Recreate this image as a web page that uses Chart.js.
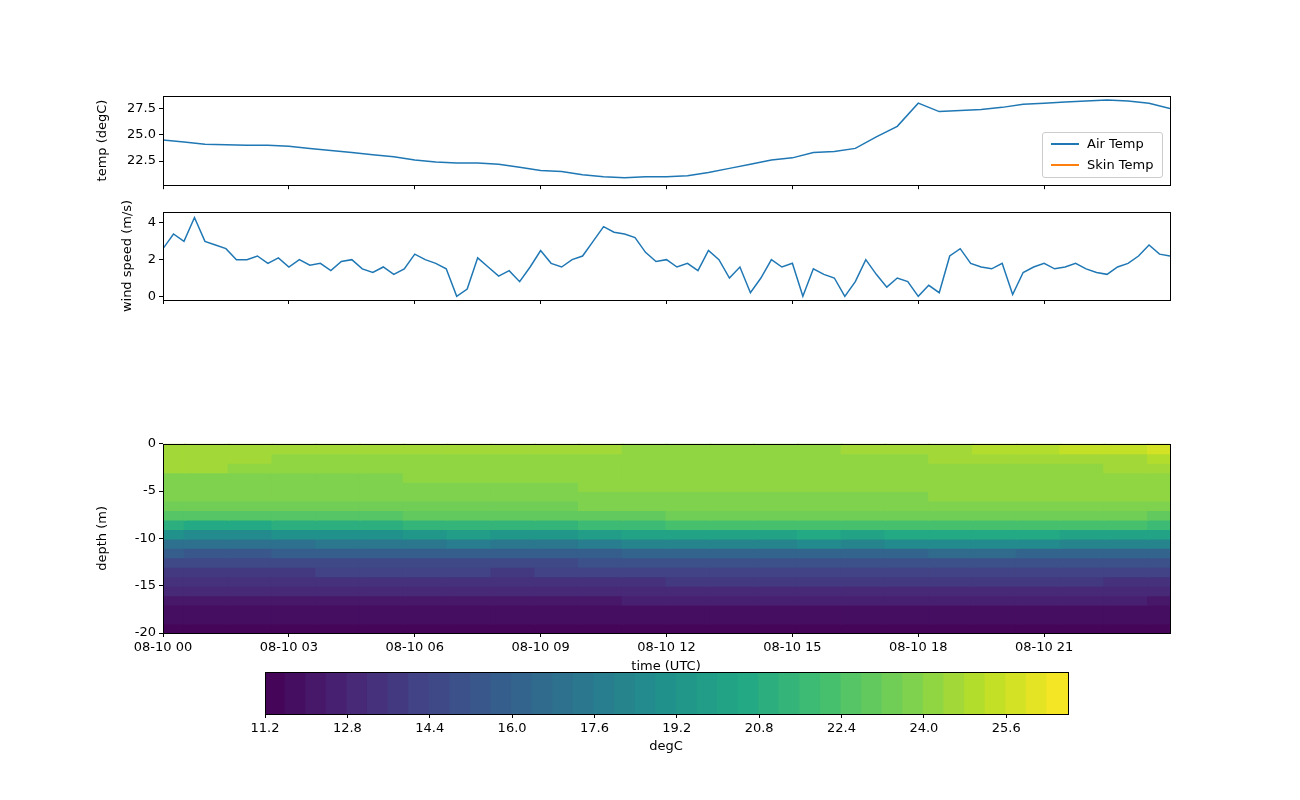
<!DOCTYPE html>
<html>
<head>
<meta charset="utf-8">
<script src="https://cdn.jsdelivr.net/npm/chart.js@4"></script>
<style>
  body { margin: 0; width: 1300px; height: 800px; background: #fff; position: relative; font-family: "DejaVu Sans", sans-serif; overflow: hidden; }
  canvas { position: absolute; }
  .lbl { position: absolute; font-size: 13px; transform: translateX(-50%); white-space: nowrap; }
  #legend { position: absolute; left: 1042px; top: 132px; width: 119px; height: 44px; border: 1px solid #ccc; border-radius: 3px; background: #fff; font-size: 13px; }
  #legend div { height: 21px; line-height: 21px; position: relative; padding-left: 44px; }
  #legend span { position: absolute; left: 8px; top: 10px; width: 28px; height: 2px; }
</style>
</head>
<body>
<canvas id="tempChart"></canvas>
<canvas id="windChart"></canvas>
<canvas id="depthChart"></canvas>
<canvas id="cbarChart"></canvas>
<div class="lbl" style="left:666px; top:658px">time (UTC)</div>
<div class="lbl" style="left:666px; top:738px">degC</div>
<div id="legend">
  <div><span style="background:#1f77b4"></span>Air Temp</div>
  <div><span style="background:#ff7f0e"></span>Skin Temp</div>
</div>
<script>
const timeTicks = [0, 3, 6, 9, 12, 15, 18, 21];
const timeLabels = ["08-10 00", "08-10 03", "08-10 06", "08-10 09", "08-10 12", "08-10 15", "08-10 18", "08-10 21"];

// air temp, every 30 min
const airTemp = [24.5, 24.3, 24.1, 24.05, 24.0, 24.0, 23.9, 23.7, 23.5, 23.3, 23.1, 22.9, 22.6, 22.4, 22.3, 22.3,
  22.2, 21.9, 21.6, 21.5, 21.2, 21.0, 20.9, 21.0, 21.0, 21.1, 21.4, 21.8, 22.2, 22.6, 22.8, 23.3, 23.4, 23.7,
  24.8, 25.8, 28.0, 27.2, 27.3, 27.4, 27.6, 27.9, 28.0, 28.1, 28.2, 28.3, 28.2, 28.0, 27.5];
const skinTemp = [];

// wind speed, every 15 min
const windSpeed = [2.6, 3.4, 3.0, 4.3, 3.0, 2.8, 2.6, 2.0, 2.0, 2.2, 1.8, 2.1, 1.6, 2.0, 1.7, 1.8,
  1.4, 1.9, 2.0, 1.5, 1.3, 1.6, 1.2, 1.5, 2.3, 2.0, 1.8, 1.5, 0.0, 0.4, 2.1, 1.6,
  1.1, 1.4, 0.8, 1.6, 2.5, 1.8, 1.6, 2.0, 2.2, 3.0, 3.8, 3.5, 3.4, 3.2, 2.4, 1.9,
  2.0, 1.6, 1.8, 1.4, 2.5, 2.0, 1.0, 1.6, 0.2, 1.0, 2.0, 1.6, 1.8, 0.0, 1.5, 1.2,
  1.0, 0.0, 0.8, 2.0, 1.2, 0.5, 1.0, 0.8, 0.0, 0.6, 0.2, 2.2, 2.6, 1.8, 1.6, 1.5,
  1.8, 0.1, 1.3, 1.6, 1.8, 1.5, 1.6, 1.8, 1.5, 1.3, 1.2, 1.6, 1.8, 2.2, 2.8, 2.3, 2.2];

// water temperature (degC): one column per hour, 1 m layers from 0 to -20 m
const depthHours = ["0","1","2","3","4","5","6","7","8","9","10","11","12","13","14","15","16","17","18","19","20","21","22","23"];
const waterTemp = [
  [24.7,24.6,24.4,23.9,23.7,23.6,23.4,22.6,20.8,18.8,17.0,15.6,14.6,13.9,13.4,12.9,12.3,11.9,11.6,11.4],
  [24.7,24.6,24.4,23.9,23.7,23.6,23.4,22.5,20.7,18.7,16.9,15.5,14.6,13.9,13.4,12.9,12.3,11.9,11.6,11.4],
  [24.6,24.5,24.3,23.9,23.7,23.6,23.3,22.5,20.7,18.7,16.9,15.5,14.5,13.8,13.3,12.8,12.2,11.8,11.6,11.4],
  [24.5,24.3,24.1,23.9,23.7,23.6,23.4,22.6,20.9,18.9,17.1,15.6,14.6,13.9,13.4,12.9,12.3,11.9,11.6,11.4],
  [24.5,24.3,24.1,23.9,23.7,23.6,23.4,22.7,21.0,19.0,17.2,15.7,14.7,14.0,13.4,12.9,12.3,11.9,11.6,11.4],
  [24.4,24.3,24.1,23.9,23.8,23.6,23.4,22.7,21.1,19.1,17.2,15.7,14.7,14.0,13.4,12.9,12.3,11.9,11.6,11.4],
  [24.4,24.3,24.1,24.0,23.9,23.7,23.5,22.9,21.4,19.5,17.5,15.8,14.7,14.0,13.4,12.9,12.3,11.9,11.6,11.4],
  [24.4,24.3,24.1,24.0,23.9,23.7,23.5,22.9,21.5,19.6,17.6,15.8,14.7,14.0,13.4,12.9,12.3,11.9,11.6,11.4],
  [24.4,24.3,24.1,24.0,23.9,23.7,23.5,22.8,21.3,19.4,17.4,15.7,14.6,13.9,13.3,12.8,12.2,11.8,11.6,11.4],
  [24.4,24.3,24.2,24.0,23.9,23.7,23.5,22.9,21.4,19.5,17.5,15.8,14.7,14.0,13.4,12.9,12.3,11.9,11.6,11.4],
  [24.4,24.3,24.2,24.1,24.0,23.8,23.6,23.0,21.6,19.7,17.7,15.9,14.8,14.0,13.4,12.9,12.3,11.9,11.6,11.4],
  [24.3,24.3,24.2,24.1,24.0,23.9,23.7,23.1,21.8,20.0,18.0,16.1,14.9,14.1,13.5,13.0,12.4,11.9,11.6,11.4],
  [24.3,24.3,24.2,24.1,24.0,23.9,23.7,23.2,22.0,20.2,18.2,16.2,15.0,14.2,13.6,13.0,12.4,11.9,11.6,11.4],
  [24.3,24.3,24.2,24.1,24.0,23.9,23.7,23.2,22.0,20.2,18.2,16.2,15.0,14.2,13.6,13.0,12.4,11.9,11.6,11.4],
  [24.3,24.3,24.2,24.1,24.0,23.9,23.7,23.2,22.0,20.3,18.3,16.3,15.0,14.2,13.6,13.0,12.4,11.9,11.6,11.4],
  [24.3,24.3,24.2,24.1,24.0,23.9,23.7,23.2,22.1,20.4,18.4,16.3,15.1,14.3,13.6,13.0,12.4,11.9,11.6,11.4],
  [24.4,24.3,24.2,24.1,24.0,23.9,23.7,23.2,22.0,20.3,18.3,16.3,15.0,14.2,13.6,13.0,12.4,11.9,11.6,11.4],
  [24.5,24.3,24.2,24.1,24.0,23.9,23.7,23.2,22.1,20.4,18.4,16.3,15.1,14.3,13.6,13.0,12.4,11.9,11.6,11.4],
  [24.7,24.4,24.3,24.2,24.1,24.0,23.8,23.3,22.2,20.5,18.5,16.4,15.1,14.3,13.6,13.0,12.4,11.9,11.6,11.4],
  [24.8,24.5,24.3,24.2,24.1,24.0,23.8,23.3,22.2,20.5,18.5,16.4,15.1,14.3,13.6,13.0,12.4,11.9,11.6,11.4],
  [25.0,24.5,24.3,24.2,24.1,24.0,23.8,23.3,22.2,20.4,18.4,16.3,15.1,14.3,13.6,13.0,12.4,11.9,11.6,11.4],
  [25.2,24.6,24.3,24.2,24.1,24.0,23.8,23.2,22.1,20.3,18.3,16.2,15.0,14.2,13.6,13.0,12.4,11.9,11.6,11.4],
  [25.5,24.7,24.4,24.2,24.1,24.0,23.8,23.2,22.0,20.1,18.1,16.1,14.9,14.2,13.5,13.0,12.4,11.9,11.6,11.4],
  [25.9,24.8,24.4,24.2,24.1,24.0,23.7,23.1,21.9,20.0,18.0,16.0,14.9,14.1,13.5,12.9,12.3,11.9,11.6,11.4]
];

// contour levels and colorbar ticks
const levels = [11.2,11.6,12.0,12.4,12.8,13.2,13.6,14.0,14.4,14.8,15.2,15.6,16.0,16.4,16.8,17.2,17.6,18.0,18.4,18.8,
  19.2,19.6,20.0,20.4,20.8,21.2,21.6,22.0,22.4,22.8,23.2,23.6,24.0,24.4,24.8,25.2,25.6,26.0,26.4,26.8];
const cbarTicks = [11.2, 12.8, 14.4, 16.0, 17.6, 19.2, 20.8, 22.4, 24.0, 25.6];

const VIRIDIS = ["#440154","#482475","#414487","#355f8d","#2a788e","#21918c","#22a884","#44bf70","#7ad151","#bddf26","#fde725"];
function hex(h) { return [1, 3, 5].map(i => parseInt(h.substr(i, 2), 16)); }
function viridis(t) {
  t = Math.max(0, Math.min(1, t));
  const p = t * 10, i = Math.min(9, Math.floor(p)), f = p - i;
  const a = hex(VIRIDIS[i]), b = hex(VIRIDIS[i + 1]);
  return `rgb(${a.map((v, k) => Math.round(v + (b[k] - v) * f)).join(",")})`;
}
const nBins = levels.length - 1;
function levelColor(temp) {
  let idx = 0;
  while (idx < nBins - 1 && temp >= levels[idx + 1]) idx++;
  return viridis((idx + 0.5) / nBins);
}

Chart.defaults.font.family = "'DejaVu Sans', sans-serif";
Chart.defaults.font.size = 13;
Chart.defaults.color = "#000";
Chart.defaults.animation = false;
Chart.defaults.plugins.legend.display = false;
Chart.defaults.plugins.tooltip.enabled = false;

const frame = {
  id: "frame",
  afterDraw(chart) {
    const a = chart.chartArea, ctx = chart.ctx;
    ctx.save();
    ctx.strokeStyle = "#000";
    ctx.lineWidth = 1;
    ctx.strokeRect(Math.round(a.left) + 0.5, Math.round(a.top) + 0.5, Math.round(a.right - a.left), Math.round(a.bottom - a.top));
    ctx.restore();
  }
};

function place(id, left, top, width, height) {
  const c = document.getElementById(id);
  c.style.left = left + "px"; c.style.top = top + "px";
  c.style.width = width + "px"; c.style.height = height + "px";
  return c;
}

const tickGrid = { drawOnChartArea: false, drawTicks: true, tickLength: 4, color: "#000", offset: false };

function timeAxis(showLabels, height) {
  return {
    type: "linear", min: 0, max: 24, offset: false, position: "bottom",
    grid: tickGrid, border: { display: false },
    afterBuildTicks: s => { s.ticks = timeTicks.map(v => ({ value: v })); },
    ticks: { display: showLabels, maxRotation: 0, padding: 3, callback: (v, i) => timeLabels[i] },
    afterFit: s => { s.height = height; }
  };
}

function yAxis(width, title, min, max, tickVals, fmt) {
  return {
    min, max,
    grid: tickGrid, border: { display: false },
    afterBuildTicks: s => { s.ticks = tickVals.map(v => ({ value: v })); },
    ticks: { padding: 3, callback: fmt },
    title: { display: true, text: title, padding: { top: 0, bottom: 2 } },
    afterFit: s => { s.width = width; }
  };
}

// panel 1: temperatures
new Chart(place("tempChart", 95, 85, 1082, 111), {
  type: "line",
  data: {
    datasets: [
      { label: "Air Temp", data: airTemp.map((v, i) => ({ x: i * 0.5, y: v })), borderColor: "#1f77b4", borderWidth: 1.5, pointRadius: 0 },
      { label: "Skin Temp", data: skinTemp, borderColor: "#ff7f0e", borderWidth: 1.5, pointRadius: 0 }
    ]
  },
  options: {
    responsive: false, maintainAspectRatio: false,
    layout: { padding: { top: 8, right: 7 } },
    scales: {
      x: timeAxis(false, 9),
      y: yAxis(68, "temp (degC)", 20.2, 28.7, [22.5, 25.0, 27.5], v => v.toFixed(1))
    }
  },
  plugins: [frame]
});

// panel 2: wind speed
new Chart(place("windChart", 120, 180, 1057, 154), {
  type: "line",
  data: {
    datasets: [{ data: windSpeed.map((v, i) => ({ x: i * 0.25, y: v })), borderColor: "#1f77b4", borderWidth: 1.5, pointRadius: 0 }]
  },
  options: {
    responsive: false, maintainAspectRatio: false,
    layout: { padding: { top: 32, right: 7, bottom: 25 } },
    scales: {
      x: timeAxis(false, 9),
      y: yAxis(43, "wind speed (m/s)", -0.2, 4.6, [0, 2, 4], v => v.toString())
    }
  },
  plugins: [frame]
});

// panel 3: water temperature by depth
const depthSets = waterTemp[0].map((_, r) => ({
  data: depthHours.map(() => -1),
  backgroundColor: waterTemp.map(col => levelColor(col[r])),
  borderWidth: 0, inflateAmount: 1,
  barPercentage: 1, categoryPercentage: 1,
  stack: "d"
}));
new Chart(place("depthChart", 95, 433, 1082, 230), {
  type: "bar",
  data: { labels: depthHours, datasets: depthSets },
  options: {
    responsive: false, maintainAspectRatio: false,
    layout: { padding: { top: 8, right: 7 } },
    scales: {
      x: { stacked: true, display: false, offset: false },
      t: timeAxis(true, 30),
      y: Object.assign(yAxis(68, "depth (m)", -20, 0, [-20, -15, -10, -5, 0], v => v.toString()), { stacked: true })
    }
  },
  plugins: [frame]
});

// colorbar
const cbarCenters = levels.slice(0, -1).map((v, i) => (v + levels[i + 1]) / 2);
new Chart(place("cbarChart", 245, 664, 842, 80), {
  type: "bar",
  data: {
    datasets: [{
      data: cbarCenters.map(c => ({ x: c, y: 1 })),
      backgroundColor: cbarCenters.map((c, i) => viridis((i + 0.5) / nBins)),
      borderWidth: 0, inflateAmount: 1, barPercentage: 1, categoryPercentage: 1
    }]
  },
  options: {
    responsive: false, maintainAspectRatio: false,
    layout: { padding: { top: 8, left: 20, right: 19 } },
    scales: {
      x: {
        type: "linear", min: 11.2, max: 26.8, offset: false,
        grid: tickGrid, border: { display: false },
        afterBuildTicks: s => { s.ticks = cbarTicks.map(v => ({ value: v })); },
        ticks: { maxRotation: 0, padding: 3, callback: v => v.toFixed(1) },
        afterFit: s => { s.height = 30; }
      },
      y: { display: false, min: 0, max: 1 }
    }
  },
  plugins: [frame]
});
</script>
</body>
</html>
